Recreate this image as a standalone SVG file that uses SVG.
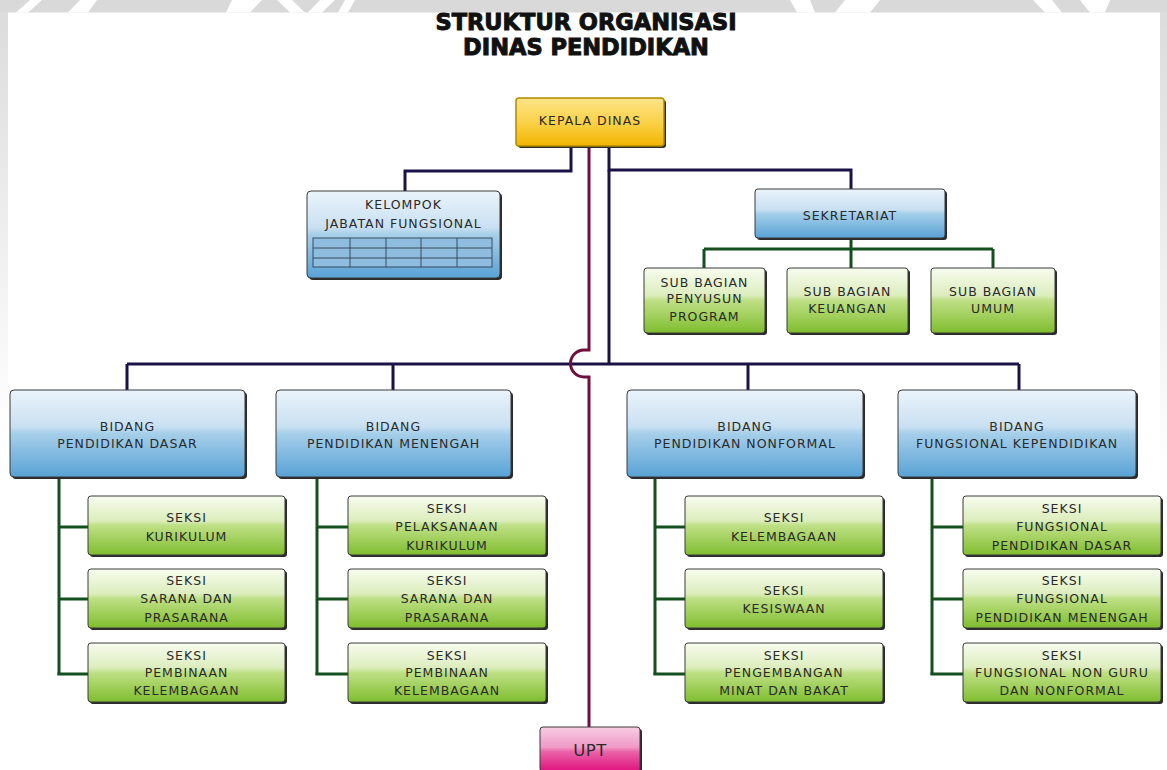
<svg xmlns="http://www.w3.org/2000/svg" width="1167" height="770" viewBox="0 0 1167 770">
<defs>
<linearGradient id="gBlue" x1="0" y1="0" x2="0" y2="1">
<stop offset="0" stop-color="#eaf4fb"/><stop offset="0.42" stop-color="#c9e0f2"/><stop offset="0.5" stop-color="#a6cfea"/><stop offset="1" stop-color="#58a2d5"/>
</linearGradient>
<linearGradient id="gGreen" x1="0" y1="0" x2="0" y2="1">
<stop offset="0" stop-color="#f8fcef"/><stop offset="0.42" stop-color="#dcedbd"/><stop offset="0.5" stop-color="#bfe086"/><stop offset="1" stop-color="#7fbd2e"/>
</linearGradient>
<linearGradient id="gGold" x1="0" y1="0" x2="0" y2="1">
<stop offset="0" stop-color="#fde48a"/><stop offset="0.5" stop-color="#fad24a"/><stop offset="1" stop-color="#f3b500"/>
</linearGradient>
<linearGradient id="gPink" x1="0" y1="0" x2="0" y2="1">
<stop offset="0" stop-color="#f7cce3"/><stop offset="0.45" stop-color="#f09ac6"/><stop offset="0.55" stop-color="#ea63a8"/><stop offset="1" stop-color="#de0f7c"/>
</linearGradient>
<linearGradient id="gEdge" x1="0" y1="0" x2="0" y2="1">
<stop offset="0" stop-color="#dcdcdc"/><stop offset="1" stop-color="#ffffff"/>
</linearGradient>
</defs>
<style>
.t{font-family:"DejaVu Sans","Liberation Sans",sans-serif;font-size:12.5px;letter-spacing:1px;fill:#2a2a2a;text-anchor:middle}
.title{font-family:"DejaVu Sans","Liberation Sans",sans-serif;font-size:22.5px;font-weight:bold;fill:#111;stroke:#111;stroke-width:1;text-anchor:middle}
.sh{fill:#2a2a2a}
.bx{stroke:#3a3a3a;stroke-width:1}
.blue{fill:url(#gBlue)}
.green{fill:url(#gGreen)}
.navy{fill:none;stroke:#1c1245;stroke-width:3}
.grn{fill:none;stroke:#14501e;stroke-width:3}
.mag{fill:none;stroke:#6e0f3e;stroke-width:3}
</style>
<rect width="1167" height="770" fill="#ffffff"/>
<g id="watermark">
<rect x="0" y="0" width="1167" height="12.5" fill="#d9d9d9"/>
<rect x="0" y="12" width="8" height="420" fill="url(#gEdge)"/>
<rect x="1160" y="12" width="7" height="470" fill="url(#gEdge)"/>
<polygon points="30,0 42,0 28,12.5 16,12.5" fill="#fff"/>
<polygon points="80,0 97,0 88,12.5 68,12.5" fill="#fff"/>
<polygon points="232,0 262,0 250,12.5 226,12.5" fill="#fff"/>
<polygon points="277,0 292,0 305,12.5 290,12.5" fill="#fff"/>
<polygon points="320,0 335,0 322,12.5 308,12.5" fill="#fff"/>
<polygon points="345,0 355,0 348,12.5 338,12.5" fill="#fff"/>
<polygon points="790,0 810,0 815,12.5 797,12.5" fill="#fff"/>
<polygon points="845,0 880,0 870,12.5 835,12.5" fill="#fff"/>
<polygon points="1033,0 1052,0 1062,12.5 1045,12.5" fill="#fff"/>
<polygon points="1080,0 1110,0 1105,12.5 1090,12.5" fill="#fff"/>
</g>
<g id="title">
<text class="title" x="586" y="30">STRUKTUR ORGANISASI</text>
<text class="title" x="586" y="55">DINAS PENDIDIKAN</text>
</g>
<g id="connectors">
<path class="navy" d="M571,146 V171 H405 V191"/>
<path class="navy" d="M609,146 V170 H851 V189"/>
<path class="navy" d="M609,170 V364"/>
<path class="navy" d="M127,364 H1019"/>
<path class="navy" d="M127,364 V390 M393,364 V390 M748,364 V390 M1019,364 V390"/>
<path class="mag" d="M589,146 V350 H584 A13.5,13.5 0 0 0 584,377 H589 V727"/>
<path class="grn" d="M851,238 V249 M704,249 H993 M704,249 V268 M851,249 V268 M993,249 V268"/>
<path class="grn" d="M59,477 V675 M59,527 H88 M59,599 H88"/>
<path class="grn" d="M317,477 V675 M317,527 H348 M317,599 H348" stroke="#1a6a28"/>
<path class="grn" d="M655,477 V675 M655,527 H685 M655,599 H685"/>
<path class="grn" d="M932,477 V675 M932,527 H963 M932,599 H963"/>
<path class="grn" stroke-width="4" d="M57.5,674 H88 M315.5,674 H348 M653.5,674 H685 M930.5,674 H963"/>
</g>
<g id="kepala-dinas">
<rect x="518" y="100" width="148" height="48" rx="3" class="sh"/>
<rect x="516" y="98" width="148" height="48" rx="3" fill="url(#gGold)" stroke="#b08a00" stroke-width="1.5"/>
<text class="t" x="590" y="124.5">KEPALA DINAS</text>
</g>
<g id="kelompok-jabatan-fungsional">
<rect x="309" y="193" width="193" height="87" rx="4" class="sh"/>
<rect x="307" y="191" width="193" height="87" rx="4" class="bx blue"/>
<text class="t" x="403.5" y="208.5">KELOMPOK</text>
<text class="t" x="403.5" y="227.5">JABATAN FUNGSIONAL</text>
<g fill="none" stroke="#3a4a5a" stroke-width="1">
<rect x="313" y="238" width="179" height="29" fill="#8fbde0"/>
<path d="M313,248 H492 M313,258 H492 M350,238 V267 M386,238 V267 M421,238 V267 M457,238 V267"/>
</g>
</g>
<g id="sekretariat">
<rect x="757" y="191" width="190" height="49" rx="3" class="sh"/>
<rect x="755" y="189" width="190" height="49" rx="3" class="bx blue"/>
<text class="t" x="850" y="219.5">SEKRETARIAT</text>
</g>
<g id="sub-bagian-penyusun-program">
<rect x="646" y="270" width="121" height="65" rx="3" class="sh"/>
<rect x="644" y="268" width="121" height="65" rx="3" class="bx green"/>
<text class="t" x="704.5" y="286.5">SUB BAGIAN</text>
<text class="t" x="704.5" y="303">PENYUSUN</text>
<text class="t" x="704.5" y="320.5">PROGRAM</text>
</g>
<g id="sub-bagian-keuangan">
<rect x="789" y="270" width="121" height="65" rx="3" class="sh"/>
<rect x="787" y="268" width="121" height="65" rx="3" class="bx green"/>
<text class="t" x="847.5" y="295.5">SUB BAGIAN</text>
<text class="t" x="847.5" y="312.5">KEUANGAN</text>
</g>
<g id="sub-bagian-umum">
<rect x="933" y="270" width="124" height="65" rx="3" class="sh"/>
<rect x="931" y="268" width="124" height="65" rx="3" class="bx green"/>
<text class="t" x="993" y="295.5">SUB BAGIAN</text>
<text class="t" x="993" y="312.5">UMUM</text>
</g>
<g id="bidang-pendidikan-dasar">
<rect x="12" y="392" width="235" height="87" rx="4" class="sh"/>
<rect x="10" y="390" width="235" height="87" rx="4" class="bx blue"/>
<text class="t" x="127.5" y="430.5">BIDANG</text>
<text class="t" x="127.5" y="447.5">PENDIDIKAN DASAR</text>
</g>
<g id="bidang-pendidikan-menengah">
<rect x="278" y="392" width="235" height="87" rx="4" class="sh"/>
<rect x="276" y="390" width="235" height="87" rx="4" class="bx blue"/>
<text class="t" x="393.5" y="430.5">BIDANG</text>
<text class="t" x="393.5" y="447.5">PENDIDIKAN MENENGAH</text>
</g>
<g id="bidang-pendidikan-nonformal">
<rect x="629" y="392" width="236" height="87" rx="4" class="sh"/>
<rect x="627" y="390" width="236" height="87" rx="4" class="bx blue"/>
<text class="t" x="745" y="430.5">BIDANG</text>
<text class="t" x="745" y="447.5">PENDIDIKAN NONFORMAL</text>
</g>
<g id="bidang-fungsional-kependidikan">
<rect x="900" y="392" width="238" height="87" rx="4" class="sh"/>
<rect x="898" y="390" width="238" height="87" rx="4" class="bx blue"/>
<text class="t" x="1017" y="430.5">BIDANG</text>
<text class="t" x="1017" y="447.5">FUNGSIONAL KEPENDIDIKAN</text>
</g>
<g id="seksi-kurikulum">
<rect x="90" y="498" width="197" height="59" rx="3" class="sh"/>
<rect x="88" y="496" width="197" height="59" rx="3" class="bx green"/>
<text class="t" x="186.5" y="521.5">SEKSI</text>
<text class="t" x="186.5" y="540.5">KURIKULUM</text>
</g>
<g id="seksi-sarana-prasarana-dasar">
<rect x="90" y="571" width="197" height="59" rx="3" class="sh"/>
<rect x="88" y="569" width="197" height="59" rx="3" class="bx green"/>
<text class="t" x="186.5" y="584.5">SEKSI</text>
<text class="t" x="186.5" y="603">SARANA DAN</text>
<text class="t" x="186.5" y="621.5">PRASARANA</text>
</g>
<g id="seksi-pembinaan-kelembagaan-dasar">
<rect x="90" y="645" width="197" height="59" rx="3" class="sh"/>
<rect x="88" y="643" width="197" height="59" rx="3" class="bx green"/>
<text class="t" x="186.5" y="659.5">SEKSI</text>
<text class="t" x="186.5" y="677">PEMBINAAN</text>
<text class="t" x="186.5" y="694.5">KELEMBAGAAN</text>
</g>
<g id="seksi-pelaksanaan-kurikulum">
<rect x="350" y="498" width="198" height="59" rx="3" class="sh"/>
<rect x="348" y="496" width="198" height="59" rx="3" class="bx green"/>
<text class="t" x="447" y="512.5">SEKSI</text>
<text class="t" x="447" y="531">PELAKSANAAN</text>
<text class="t" x="447" y="549.5">KURIKULUM</text>
</g>
<g id="seksi-sarana-prasarana-menengah">
<rect x="350" y="571" width="198" height="59" rx="3" class="sh"/>
<rect x="348" y="569" width="198" height="59" rx="3" class="bx green"/>
<text class="t" x="447" y="584.5">SEKSI</text>
<text class="t" x="447" y="603">SARANA DAN</text>
<text class="t" x="447" y="621.5">PRASARANA</text>
</g>
<g id="seksi-pembinaan-kelembagaan-menengah">
<rect x="350" y="645" width="198" height="59" rx="3" class="sh"/>
<rect x="348" y="643" width="198" height="59" rx="3" class="bx green"/>
<text class="t" x="447" y="659.5">SEKSI</text>
<text class="t" x="447" y="677">PEMBINAAN</text>
<text class="t" x="447" y="694.5">KELEMBAGAAN</text>
</g>
<g id="seksi-kelembagaan">
<rect x="687" y="498" width="198" height="59" rx="3" class="sh"/>
<rect x="685" y="496" width="198" height="59" rx="3" class="bx green"/>
<text class="t" x="784" y="521.5">SEKSI</text>
<text class="t" x="784" y="540.5">KELEMBAGAAN</text>
</g>
<g id="seksi-kesiswaan">
<rect x="687" y="571" width="198" height="59" rx="3" class="sh"/>
<rect x="685" y="569" width="198" height="59" rx="3" class="bx green"/>
<text class="t" x="784" y="594.5">SEKSI</text>
<text class="t" x="784" y="612.5">KESISWAAN</text>
</g>
<g id="seksi-pengembangan-minat-bakat">
<rect x="687" y="645" width="198" height="59" rx="3" class="sh"/>
<rect x="685" y="643" width="198" height="59" rx="3" class="bx green"/>
<text class="t" x="784" y="659.5">SEKSI</text>
<text class="t" x="784" y="677">PENGEMBANGAN</text>
<text class="t" x="784" y="694.5">MINAT DAN BAKAT</text>
</g>
<g id="seksi-fungsional-pendidikan-dasar">
<rect x="965" y="498" width="198" height="59" rx="3" class="sh"/>
<rect x="963" y="496" width="198" height="59" rx="3" class="bx green"/>
<text class="t" x="1062" y="512.5">SEKSI</text>
<text class="t" x="1062" y="531">FUNGSIONAL</text>
<text class="t" x="1062" y="549.5">PENDIDIKAN DASAR</text>
</g>
<g id="seksi-fungsional-pendidikan-menengah">
<rect x="965" y="571" width="198" height="59" rx="3" class="sh"/>
<rect x="963" y="569" width="198" height="59" rx="3" class="bx green"/>
<text class="t" x="1062" y="584.5">SEKSI</text>
<text class="t" x="1062" y="603">FUNGSIONAL</text>
<text class="t" x="1062" y="621.5">PENDIDIKAN MENENGAH</text>
</g>
<g id="seksi-fungsional-non-guru">
<rect x="965" y="645" width="198" height="59" rx="3" class="sh"/>
<rect x="963" y="643" width="198" height="59" rx="3" class="bx green"/>
<text class="t" x="1062" y="659.5">SEKSI</text>
<text class="t" x="1062" y="677">FUNGSIONAL NON GURU</text>
<text class="t" x="1062" y="694.5">DAN NONFORMAL</text>
</g>
<g id="upt">
<rect x="542" y="729" width="100" height="45" rx="3" class="sh"/>
<rect x="540" y="727" width="100" height="45" rx="3" stroke="#3a3a3a" stroke-width="1" fill="url(#gPink)"/>
<text class="t" x="590" y="756" style="font-size:16.5px;letter-spacing:0.5px">UPT</text>
</g>
</svg>
